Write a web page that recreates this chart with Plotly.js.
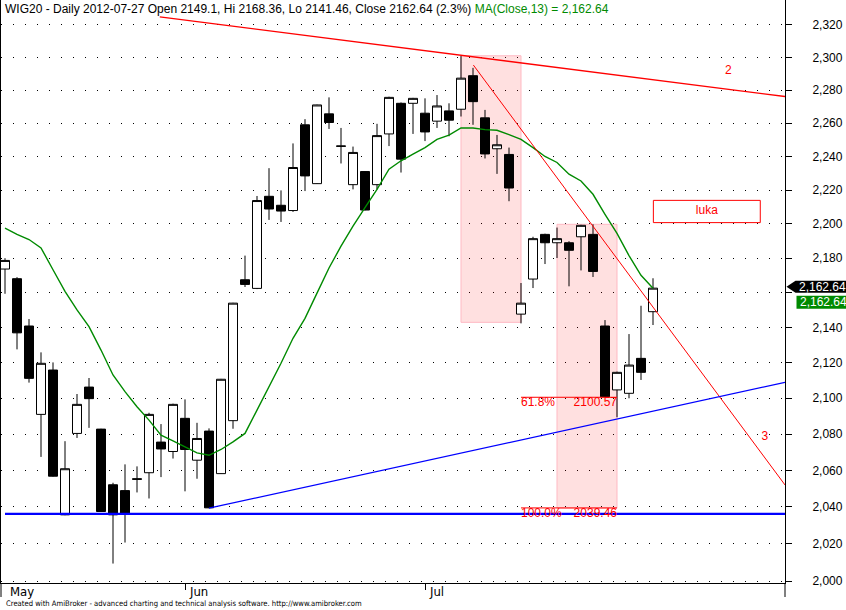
<!DOCTYPE html>
<html><head><meta charset="utf-8">
<script src="https://cdn.plot.ly/plotly-3.0.1.min.js"></script>
<style>html,body{margin:0;padding:0;background:#fff;} #chart{width:846px;height:610px;}</style>
</head><body><div id="chart"></div>
<script>
// ---------------- data ----------------
const symbol = 'WIG20';
const dates = [
 '2012-05-11','2012-05-14','2012-05-15','2012-05-16','2012-05-17','2012-05-18','2012-05-21','2012-05-22','2012-05-23','2012-05-24','2012-05-25','2012-05-28','2012-05-29','2012-05-30','2012-05-31',
 '2012-06-01','2012-06-04','2012-06-05','2012-06-06','2012-06-08','2012-06-11','2012-06-12','2012-06-13','2012-06-14','2012-06-15','2012-06-18','2012-06-19','2012-06-20','2012-06-21','2012-06-22','2012-06-25','2012-06-26','2012-06-27','2012-06-28','2012-06-29',
 '2012-07-02','2012-07-03','2012-07-04','2012-07-05','2012-07-06','2012-07-09','2012-07-10','2012-07-11','2012-07-12','2012-07-13','2012-07-16','2012-07-17','2012-07-18','2012-07-19','2012-07-20','2012-07-23','2012-07-24','2012-07-25','2012-07-26','2012-07-27'];
const open  = [2173.7,2168.1,2140.9,2091.0,2115.9,2035.7,2080.4,2106.3,2082.8,2052.1,2048.9,2055.4,2058.7,2075.6,2070.4,2088.8,2065.6,2081.7,2058.2,2087.5,2167.5,2162.5,2216.3,2211.0,2207.9,2259.0,2223.8,2265.6,2246.3,2223.2,2231.0,2223.2,2253.5,2272.0,2272.0,2266.0,2261.2,2267.4,2268.4,2288.8,2263.2,2244.6,2241.2,2147.7,2167.9,2193.9,2189.0,2189.0,2192.5,2193.9,2140.9,2104.7,2102.8,2122.5,2149.1];
const high  = [2180.0,2169.0,2144.9,2125.9,2120.2,2076.1,2102.4,2111.4,2083.0,2053.2,2063.3,2062.2,2091.9,2085.6,2097.0,2099.4,2086.3,2083.2,2110.9,2154.2,2181.5,2216.5,2233.0,2219.8,2247.8,2262.4,2271.2,2275.6,2257.1,2245.9,2231.2,2259.6,2276.0,2272.5,2275.3,2275.0,2277.0,2272.0,2300.8,2293.6,2268.0,2252.9,2245.3,2165.6,2192.5,2194.3,2197.9,2189.9,2199.5,2199.8,2144.3,2115.0,2136.3,2152.5,2168.36];
const low   = [2159.4,2127.6,2108.8,2067.4,2056.5,2035.5,2077.9,2083.5,2037.3,2009.4,2020.7,2047.9,2044.6,2056.3,2066.5,2048.5,2055.4,2039.3,2058.0,2083.0,2163.3,2162.1,2202.4,2201.2,2207.1,2219.4,2223.6,2256.5,2235.8,2220.4,2208.0,2220.4,2246.2,2230.4,2253.5,2249.2,2257.1,2252.1,2264.0,2259.0,2238.8,2229.6,2213.4,2142.4,2162.7,2176.6,2180.1,2163.7,2172.9,2169.1,2100.57,2089.4,2100.0,2110.3,2141.46];
const close = [2178.7,2137.0,2111.2,2119.7,2056.8,2060.9,2096.6,2099.8,2037.5,2035.7,2036.4,2055.1,2091.0,2071.8,2096.6,2071.5,2077.6,2039.5,2110.7,2154.0,2164.8,2213.8,2208.8,2207.6,2233.4,2228.4,2271.0,2260.4,2246.1,2242.4,2208.2,2252.5,2275.6,2238.4,2275.0,2254.7,2270.4,2261.8,2287.3,2273.0,2241.5,2247.0,2221.2,2154.0,2191.4,2189.0,2191.4,2184.6,2199.2,2172.3,2100.9,2114.6,2118.7,2114.6,2162.64];
const ma13  = [2197.5,2193.9,2190.9,2186.0,2173.3,2160.8,2150.1,2140.5,2127.2,2113.1,2103.7,2095.3,2087.8,2079.4,2076.3,2072.9,2069.6,2068.3,2071.5,2075.7,2080.4,2093.4,2106.5,2119.7,2133.9,2145.3,2159.8,2174.3,2187.0,2198.8,2209.6,2220.4,2232.4,2237.4,2241.4,2245.3,2250.2,2252.8,2257.1,2257.1,2256.1,2255.7,2253.1,2250.2,2245.3,2240.0,2236.4,2229.4,2225.4,2217.5,2205.7,2194.5,2181.5,2170.1,2162.64];
const monthNames = ['Jan','Feb','Mar','Apr','May','Jun','Jul','Aug','Sep','Oct','Nov','Dec'];
const yTicks = [2000,2020,2040,2060,2080,2100,2120,2140,2160,2180,2200,2220,2240,2260,2280,2300,2320];

// drawn studies (bar index, price)
const line2X = [12.9, 65];    const line2Y = [2325.0, 2276.1];   // red resistance "2"
const line3X = [39.03, 65];   const line3Y = [2295.3, 2052.0];   // red down trend "3"
const supX   = [17, 65];      const supY   = [2039.3, 2109.0];   // blue rising support
const floorX = [0, 65];       const floorY = [2036.2, 2036.2];   // blue horizontal
const gapStart = [38, 46];  const gapEnd = [43, 51];
const gapLow = [2143.0, 2039.3];  const gapHigh = [2301.0, 2199.8];
const fibPct = ['61.8%', '100.0%'];  const fibVal = [2100.57, 2039.46];  const fibX = [43, 51];
const lukaX = [54.03, 62.94];  const lukaY = [2200.8, 2213.9];  const lukaText = 'luka';
const label2 = {x: 60.27, y: 2291.4, t: '2'};
const label3 = {x: 63.33, y: 2078.3, t: '3'};

// ---------------- helpers ----------------
function comma(v, d){ const s = v.toFixed(d); const p = s.split('.'); return p[0].replace(/\B(?=(\d{3})+(?!\d))/g, ',') + (p[1] ? '.' + p[1] : ''); }
const idx = dates.map((d,i)=>i);
const last = close.length - 1;
const W = 846, H = 610, mL = 1, mR = 61, mT = 0, mB = 27;
const plotW = W - mL - mR, plotH = H - mT - mB;
const yRange = [Math.log10(1999.0), Math.log10(2335.5)];
const xRange = [-0.333, 65];
const pxY = v => mT + plotH * (yRange[1] - Math.log10(v)) / (yRange[1] - yRange[0]);
const paperX = px => (px - mL) / plotW;
const paperY = py => (mT + plotH - py) / plotH;

const monthStart = [];
dates.forEach((d,i)=>{ if(i===0 || d.slice(5,7)!==dates[i-1].slice(5,7)) monthStart.push(i); });

const FONT = 'Liberation Sans, Arial, sans-serif';
const NARROW = 'Liberation Sans Narrow, Arial Narrow, DejaVu Sans Condensed, Liberation Sans, sans-serif';
const RED = '#ff0000';

const traces = [];
traces.push({type:'bar', x: gapStart.map((s,i)=>(s+gapEnd[i])/2), width: gapStart.map((s,i)=>gapEnd[i]-s),
  base: gapLow, y: gapHigh.map((h,i)=>h-gapLow[i]),
  marker:{color:'rgba(255,0,0,0.12)', line:{color:'rgb(255,185,195)', width:1}}, hoverinfo:'skip'});
traces.push({type:'candlestick', x: idx, open: open, high: high, low: low, close: close,
  increasing:{line:{color:'#000', width:1}, fillcolor:'#fff'},
  decreasing:{line:{color:'#000', width:1}, fillcolor:'#000'},
  whiskerwidth: 0, hoverinfo:'skip'});
traces.push({type:'scatter', mode:'lines', x: idx, y: ma13, line:{color:'#008a00', width:1.4}, hoverinfo:'skip'});
traces.push({type:'scatter', mode:'lines', x: line2X, y: line2Y, line:{color:RED, width:1.4}, hoverinfo:'skip'});
traces.push({type:'scatter', mode:'lines', x: line3X, y: line3Y, line:{color:RED, width:1}, hoverinfo:'skip'});
traces.push({type:'scatter', mode:'lines', x: supX, y: supY, line:{color:'#0000ff', width:1.3}, hoverinfo:'skip'});
traces.push({type:'scatter', mode:'lines', x: floorX, y: floorY, line:{color:'#0000ff', width:2.4}, hoverinfo:'skip'});
fibVal.forEach((v,i)=>{
  traces.push({type:'scatter', mode:'lines', x: fibX, y:[v,v], line:{color:RED, width:1}, hoverinfo:'skip'});
  traces.push({type:'scatter', mode:'text', x:[fibX[0], fibX[1]], y:[v,v], text:[fibPct[i], v.toFixed(2)],
    textposition:['bottom right','bottom left'], textfont:{family:FONT, size:12, color:RED}, cliponaxis:false, hoverinfo:'skip'});
});
traces.push({type:'scatter', mode:'lines', x:[lukaX[0],lukaX[1],lukaX[1],lukaX[0],lukaX[0]], y:[lukaY[0],lukaY[0],lukaY[1],lukaY[1],lukaY[0]],
  fill:'toself', fillcolor:'#fff', line:{color:RED, width:1}, hoverinfo:'skip'});
traces.push({type:'scatter', mode:'text', x:[(lukaX[0]+lukaX[1])/2], y:[Math.sqrt(lukaY[0]*lukaY[1])], text:[lukaText],
  textposition:'middle center', textfont:{family:FONT, size:12, color:RED}, hoverinfo:'skip'});
traces.push({type:'scatter', mode:'text', x:[label2.x, label3.x], y:[label2.y, label3.y], text:[label2.t, label3.t],
  textposition:'middle center', textfont:{family:FONT, size:12, color:RED}, hoverinfo:'skip'});

const pct = ((close[last]/close[last-1]-1)*100).toFixed(1);
const titleText = `${symbol} - Daily ${dates[last]} Open ${open[last]}, Hi ${high[last]}, Lo ${low[last]}, Close ${close[last]} (${pct}%) <span style="color:#008a00">MA(Close,13) = ${comma(ma13[last],2)}</span>`;

const annotations = [];
annotations.push({xref:'paper', yref:'paper', x: paperX(3), y: 1, xanchor:'left', yanchor:'top', yshift: 0,
  text: titleText, showarrow:false, font:{family:FONT, size:12, color:'#000'}});
annotations.push({xref:'paper', yref:'paper', x: paperX(4), y: paperY(603.5), xanchor:'left', yanchor:'middle',
  text:'Created with AmiBroker - advanced charting and technical analysis software. http://www.amibroker.com', showarrow:false,
  font:{family:NARROW, size:7.6, color:'#000'}});
monthStart.forEach(i=>{
  const px = i===0 ? 8 : mL + (i - xRange[0]) * plotW / (xRange[1]-xRange[0]) + 2;
  annotations.push({xref:'paper', yref:'paper', x: paperX(px), y: paperY(591), xanchor:'left', yanchor:'middle',
    text: monthNames[parseInt(dates[i].slice(5,7),10)-1], showarrow:false, font:{family:NARROW, size:13, color:'#000'}});
});
const cY = pxY(close[last]) - 1.5;
const mY = pxY(ma13[last]) + 14;
annotations.push({xref:'paper', yref:'paper', x: paperX(797), y: paperY(cY), xanchor:'left', yanchor:'middle',
  text: comma(close[last],2), showarrow:false, font:{family:FONT, size:12, color:'#fff'}});
annotations.push({xref:'paper', yref:'paper', x: paperX(798), y: paperY(mY), xanchor:'left', yanchor:'middle',
  text: comma(ma13[last],2), showarrow:false, font:{family:FONT, size:12, color:'#fff'}});

const P = (x,y)=>`${paperX(x)},${paperY(y)}`;
const shapes = [
  {type:'path', xref:'paper', yref:'paper', path:`M ${P(786.5,cY)} L ${P(795.5,cY-6)} L ${P(846,cY-6)} L ${P(846,cY+6)} L ${P(795.5,cY+6)} Z`, fillcolor:'#000', line:{width:0}},
  {type:'rect', xref:'paper', yref:'paper', x0: paperX(796.5), x1: paperX(846), y0: paperY(mY-6.5), y1: paperY(mY+6.5), fillcolor:'#008a00', line:{width:0}},
  {type:'line', xref:'paper', yref:'paper', x0:0, x1:0, y0:0, y1: paperY(597), line:{color:'#000', width:1}},
  {type:'line', xref:'paper', yref:'paper', x0:1, x1:1, y0:0, y1: paperY(597), line:{color:'#000', width:1}}
];

const layout = {
  width: W, height: H, margin:{l:mL, r:mR, t:mT, b:mB, pad:0},
  paper_bgcolor:'#fff', plot_bgcolor:'#fff', showlegend:false, hovermode:false,
  boxgap: 0.25, boxgroupgap: 0,
  xaxis:{type:'linear', range:xRange, showgrid:false, zeroline:false, showline:true, linecolor:'#000', linewidth:1,
    rangeslider:{visible:false}, tickvals: monthStart.filter(i=>i>0), ticks:'outside', ticklen:6, tickcolor:'#000', tickwidth:1,
    showticklabels:false, fixedrange:true},
  yaxis:{type:'log', side:'right', range:yRange, tickvals:yTicks,
    ticktext: yTicks.map(v => Math.abs(v-close[last])<8 ? '' : comma(v,0)),
    ticks:'outside', ticklen:6, tickcolor:'#000', tickwidth:1, ticklabelstandoff:18,
    tickfont:{family:FONT, size:12, color:'#000'},
    showgrid:true, gridcolor:'#000', gridwidth:1, griddash:'1px,11px',
    showline:true, linecolor:'#000', linewidth:1, mirror:true, zeroline:false, fixedrange:true},
  annotations: annotations, shapes: shapes
};
Plotly.newPlot('chart', traces, layout, {staticPlot:true, displayModeBar:false});
</script></body></html>
